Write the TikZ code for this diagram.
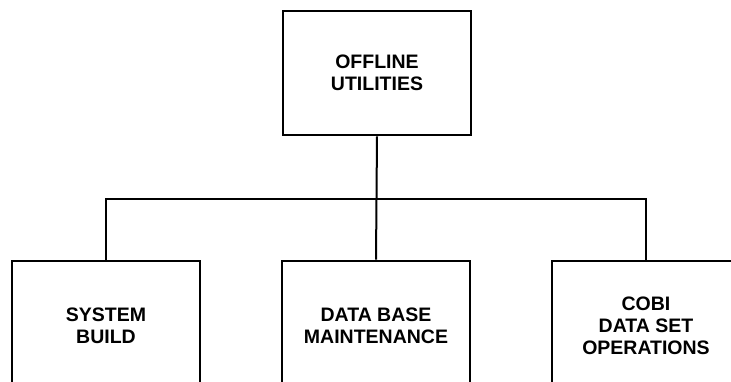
\documentclass[tikz,border=0pt]{standalone}
\usepackage{fontspec}
\setmainfont{Liberation Sans}
\begin{document}
\begin{tikzpicture}[x=1pt,y=-1pt,
  box/.style={draw=black,line width=2.6pt,minimum width=188pt,align=center,inner sep=0pt,
    font=\fontsize{19.5}{22}\selectfont\bfseries},
  topbox/.style={box,minimum height=124pt},
  lowbox/.style={box,minimum height=130pt},
  link/.style={draw=black,line width=2pt}]
\useasboundingbox (0,0) rectangle (731,382);
\clip (0,0) rectangle (731,382);
\node[topbox] (top) at (377,73) {OFFLINE\\UTILITIES};
\node[lowbox] (sb) at (106,326) {SYSTEM\\BUILD};
\node[lowbox] (dbm) at (376,326) {DATA BASE\\MAINTENANCE};
\node[lowbox] (cobi) at (646,326) {COBI\\DATA SET\\OPERATIONS};
\coordinate (bus) at (377,199);
\draw[link] (top.south) -- (dbm.north);
\draw[link] (sb.north) |- (bus) -| (cobi.north);
\end{tikzpicture}
\end{document}
